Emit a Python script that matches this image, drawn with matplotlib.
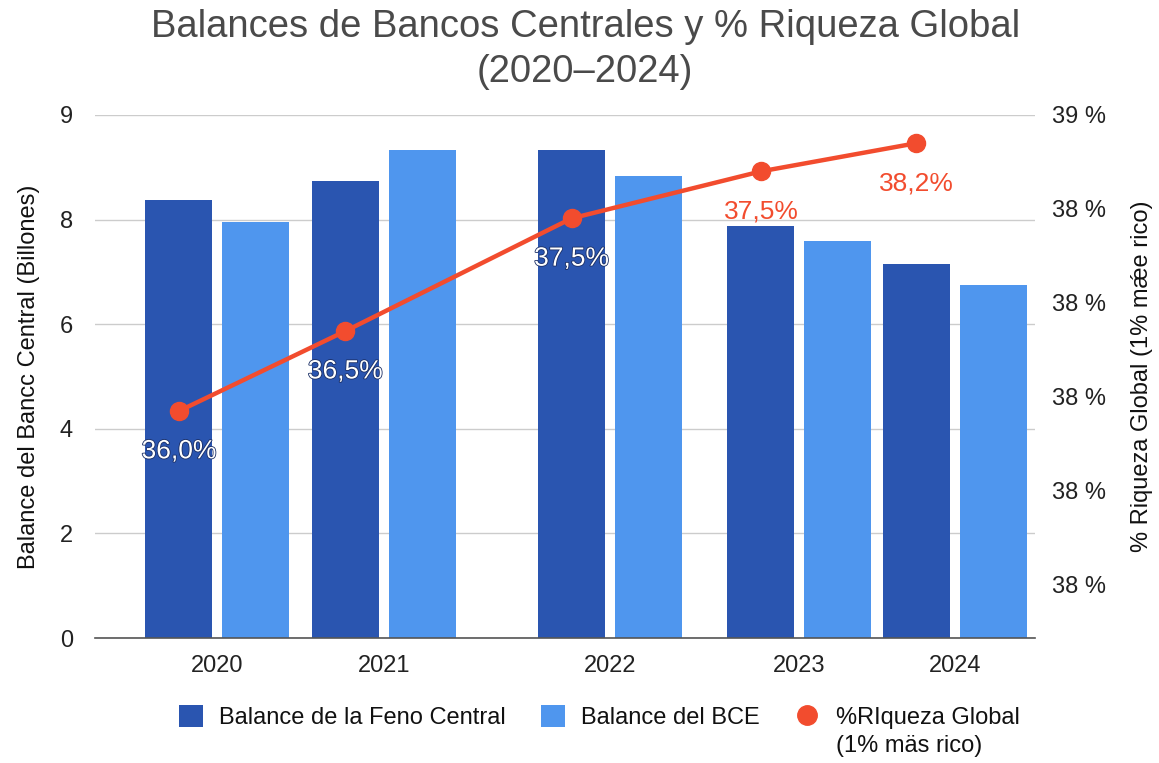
import matplotlib.pyplot as plt
import matplotlib.patheffects as pe
from matplotlib.lines import Line2D
from matplotlib.patches import Patch
import numpy as np

"""
Balances de bancos centrales (barras) y % de riqueza global (linea).
"""

years = ["2020", "2021", "2022", "2023", "2024"]
# group positions (groups are not evenly spaced in the original)
x_pos = np.array([0.0, 2.16, 5.1, 7.56, 9.58])
fed = [8.37, 8.74, 9.33, 7.88, 7.15]
bce = [7.95, 9.33, 8.83, 7.59, 6.75]
# line values on the right axis scale
riqueza = [38.37, 38.54, 38.78, 38.88, 38.94]
riqueza_labels = ["36,0%", "36,5%", "37,5%", "37,5%", "38,2%"]
left_ticks = [0, 2, 4, 6, 8, 10]
left_tick_labels = ["0", "2", "4", "6", "8", "9"]
right_ticks = [38.0, 38.2, 38.4, 38.6, 38.8, 39.0]
right_tick_labels = ["38 %", "38 %", "38 %", "38 %", "38 %", "39 %"]

DARK = "#2a55b0"
LIGHT = "#4f96ee"
RED = "#f24c2e"


def main():
    plt.rcParams["font.family"] = ["Liberation Sans", "DejaVu Sans"]
    fig = plt.figure(figsize=(11.59, 7.63), dpi=100)
    ax = fig.add_axes([0.082, 0.1638, 0.811, 0.6855])

    w = 0.87
    ax.bar(x_pos - 0.5, fed, w, color=DARK, zorder=2)
    ax.bar(x_pos + 0.5, bce, w, color=LIGHT, zorder=2)

    ax.set_xlim(-1.59, 10.62)
    ax.set_ylim(0, 10)
    ax.set_yticks(left_ticks)
    ax.set_yticklabels(left_tick_labels)
    ax.set_xticks(x_pos)
    ax.set_xticklabels(years)
    ax.tick_params(axis="both", length=0, labelsize=17, colors="#222222")
    ax.tick_params(axis="y", pad=16)
    ax.tick_params(axis="x", pad=12)
    ax.grid(axis="y", color="#cccccc", linewidth=1, zorder=0)
    for s in ["top", "right", "left"]:
        ax.spines[s].set_visible(False)
    ax.spines["bottom"].set_color("#555555")
    ax.spines["bottom"].set_linewidth(1.2)
    ax.set_ylabel("Balance del Bancc Central (Billones)", fontsize=17, color="#111111", labelpad=14)

    ax2 = ax.twinx()
    ax2.set_ylim(37.887, 39.0)
    ax2.plot(x_pos - 0.5, riqueza, color=RED, linewidth=3.2, marker="o",
             markersize=13, zorder=5, solid_capstyle="round")
    ax2.set_yticks(right_ticks)
    ax2.set_yticklabels(right_tick_labels)
    ax2.tick_params(axis="y", length=0, labelsize=17, colors="#222222", pad=12)
    for s in ax2.spines.values():
        s.set_visible(False)
    ax2.set_ylabel("% Riqueza Global (1% mǽe rico)", fontsize=17, color="#111111", labelpad=18)

    for i, (xv, yv, lab) in enumerate(zip(x_pos - 0.5, riqueza, riqueza_labels)):
        if i < 3:
            ax2.annotate(lab, (xv, yv), xytext=(0, -29), textcoords="offset points",
                         ha="center", va="center", fontsize=19, color="white", zorder=6,
                         path_effects=[pe.withStroke(linewidth=1.2, foreground="#1b2f66")])
        else:
            ax2.annotate(lab, (xv, yv), xytext=(0, -29), textcoords="offset points",
                         ha="center", va="center", fontsize=19, color=RED, zorder=6)

    fig.text(0.505, 0.935, "Balances de Bancos Centrales y % Riqueza Global\n(2020\u20132024)",
             ha="center", va="center", fontsize=27.5, color="#4a4a4a", linespacing=1.3)

    handles = [
        Patch(facecolor=DARK, edgecolor="none"),
        Patch(facecolor=LIGHT, edgecolor="none"),
        Line2D([], [], linestyle="none", marker="o", markersize=14, color=RED),
    ]
    labels = ["Balance de la Feno Central", "Balance del BCE", "%RIqueza Global"]
    leg = fig.legend(handles, labels, loc="center", bbox_to_anchor=(0.517, 1 - 717 / 763), ncol=3,
                     frameon=False, fontsize=17, handlelength=1.0, handleheight=1.1,
                     handletextpad=0.7, columnspacing=1.5, labelcolor="#111111")

    # second line of the third legend entry, aligned under its first line
    fig.canvas.draw()
    bb = leg.get_texts()[2].get_window_extent().transformed(fig.transFigure.inverted())
    fig.text(bb.x0, bb.y0 - 0.008, "(1% mäs rico)", ha="left", va="top",
             fontsize=17, color="#111111")

    plt.savefig("out.png", dpi=100)


if __name__ == "__main__":
    main()
